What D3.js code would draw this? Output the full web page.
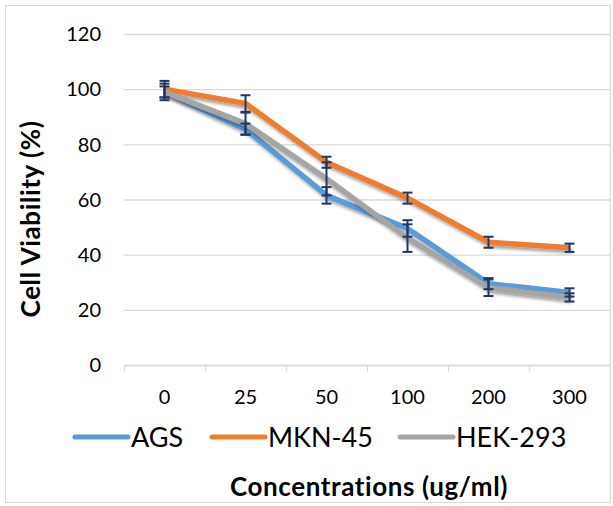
<!DOCTYPE html>
<html>
<head>
<meta charset="utf-8">
<script src="https://cdn.jsdelivr.net/npm/d3@7"></script>
<style>
  body { margin: 0; background: #fff; }
  text { font-family: Lato, "Open Sans", sans-serif; fill: #000; }
</style>
</head>
<body>
<div id="chart"></div>
<script>
// data
var concentrations = ['0', '25', '50', '100', '200', '300'];
var seriesNames = ['AGS', 'MKN-45', 'HEK-293'];
var agsValues = [99, 85.5, 61.5, 49.5, 29.5, 26.3];
var mknValues = [100, 94.8, 73.5, 60.5, 44.5, 42.5];
var hekValues = [99, 87.5, 67.5, 46, 28, 24.5];
var agsErr = [2, 2, 3, 3, 2, 1.5];
var mknErr = [3, 3, 2, 2, 2, 1.5];
var hekErr = [3, 4, 6, 5, 3, 1.5];
var yTicks = [0, 20, 40, 60, 80, 100, 120];
var colors = ['#5b9bd5', '#ed7d31', '#a5a5a5'];

var attrs = {
    svgWidth: 613,
    svgHeight: 506,
    plotLeft: 124,
    plotRight: 610,
    plotTop: 34,
    plotBottom: 365
};

var series = seriesNames.map(function (name, i) {
    var vals = [agsValues, mknValues, hekValues][i];
    var errs = [agsErr, mknErr, hekErr][i];
    return {
        name: name,
        color: colors[i],
        points: concentrations.map(function (c, j) { return { c: c, v: vals[j], e: errs[j] }; })
    };
});

var svg = d3.select('#chart')
    .append('svg')
    .attr('width', attrs.svgWidth)
    .attr('height', attrs.svgHeight);

// soft shadow like the office chart
var defs = svg.append('defs');
var f = defs.append('filter').attr('id', 'shadow')
    .attr('x', '-10%').attr('y', '-10%').attr('width', '130%').attr('height', '130%');
f.append('feDropShadow')
    .attr('dx', 2).attr('dy', 3).attr('stdDeviation', 1.6)
    .attr('flood-color', '#000').attr('flood-opacity', 0.35);

// outer border
svg.append('rect')
    .attr('x', 5.5).attr('y', 5.5)
    .attr('width', attrs.svgWidth - 8).attr('height', attrs.svgHeight - 9)
    .attr('fill', 'none').attr('stroke', '#d9d9d9');

// scales
var x = d3.scaleBand()
    .domain(concentrations)
    .range([attrs.plotLeft, attrs.plotRight]);

var y = d3.scaleLinear()
    .domain([0, 120])
    .range([attrs.plotBottom, attrs.plotTop]);

// gridlines
svg.append('g')
    .selectAll('line')
    .data(yTicks)
    .enter()
    .append('line')
    .attr('x1', attrs.plotLeft).attr('x2', attrs.plotRight)
    .attr('y1', d => y(d) + 0.5).attr('y2', d => y(d) + 0.5)
    .attr('stroke', '#d9d9d9').attr('stroke-width', 1.3);

// y tick labels
svg.append('g')
    .selectAll('text')
    .data(yTicks)
    .enter()
    .append('text')
    .attr('x', 101)
    .attr('y', d => y(d))
    .attr('dy', '0.36em')
    .attr('text-anchor', 'end')
    .style('font-size', '20px')
    .text(d => d);

// x axis with category ticks
var xAxis = svg.append('g')
    .attr('transform', 'translate(0,' + (attrs.plotBottom + 0.5) + ')');
xAxis.append('line')
    .attr('x1', attrs.plotLeft).attr('x2', attrs.plotRight)
    .attr('stroke', '#d9d9d9').attr('stroke-width', 1.3);
var tickXs = concentrations.map(c => x(c)).concat([attrs.plotRight]);
xAxis.selectAll('line.tick')
    .data(tickXs)
    .enter()
    .append('line')
    .attr('class', 'tick')
    .attr('x1', d => d + 0.5).attr('x2', d => d + 0.5)
    .attr('y1', 0).attr('y2', 6)
    .attr('stroke', '#d9d9d9').attr('stroke-width', 1.3);
xAxis.selectAll('text')
    .data(concentrations)
    .enter()
    .append('text')
    .attr('x', d => x(d) + x.bandwidth() / 2)
    .attr('y', 38)
    .attr('text-anchor', 'middle')
    .style('font-size', '20px')
    .text(d => d);

// lines
var line = d3.line()
    .x(d => x(d.c) + x.bandwidth() / 2)
    .y(d => y(d.v));

svg.append('g')
    .selectAll('path')
    .data(series)
    .enter()
    .append('path')
    .attr('d', d => line(d.points))
    .attr('fill', 'none')
    .attr('stroke', d => d.color)
    .attr('stroke-width', 5.5)
    .attr('stroke-linejoin', 'round')
    .attr('filter', 'url(#shadow)');

// error bars
var errG = svg.append('g')
    .attr('stroke', '#1f3864')
    .attr('stroke-width', 2);
series.forEach(function (s) {
    s.points.forEach(function (p) {
        var cx = x(p.c) + x.bandwidth() / 2;
        errG.append('line')
            .attr('x1', cx).attr('x2', cx)
            .attr('y1', y(p.v + p.e)).attr('y2', y(p.v - p.e));
        [p.v + p.e, p.v - p.e].forEach(function (v) {
            errG.append('line')
                .attr('x1', cx - 5).attr('x2', cx + 5)
                .attr('y1', y(v)).attr('y2', y(v));
        });
    });
});

// axis titles
svg.append('text')
    .attr('transform', 'translate(40,219) rotate(-90)')
    .attr('text-anchor', 'middle')
    .style('font-size', '26px')
    .style('font-weight', 'bold')
    .style('letter-spacing', '0.6px')
    .text('Cell Viability (%)');

svg.append('text')
    .attr('x', 369)
    .attr('y', 496)
    .attr('text-anchor', 'middle')
    .style('font-size', '26px')
    .style('font-weight', 'bold')
    .style('letter-spacing', '0.6px')
    .text('Concentrations (ug/ml)');

// legend
var legendX = [73, 210, 398];
var legend = svg.append('g')
    .selectAll('g')
    .data(series)
    .enter()
    .append('g')
    .attr('transform', (d, i) => 'translate(' + legendX[i] + ',437)');
legend.append('line')
    .attr('x1', 2).attr('x2', 55)
    .attr('stroke', d => d.color)
    .attr('stroke-width', 5)
    .attr('stroke-linecap', 'round');
legend.append('text')
    .attr('x', 58)
    .attr('dy', '0.36em')
    .style('font-size', '27px')
    .text(d => d.name);
</script>
</body>
</html>
